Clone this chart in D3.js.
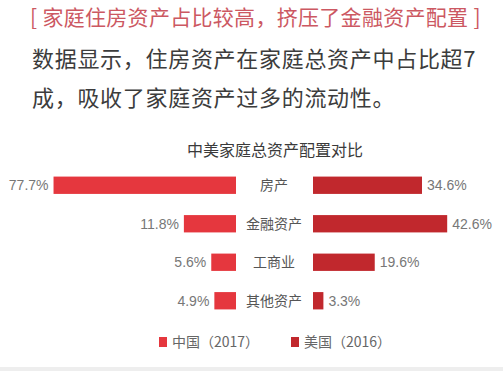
<!DOCTYPE html>
<html>
<head>
<meta charset="utf-8">
<script src="https://cdn.jsdelivr.net/npm/d3@7"></script>
<style>
  html, body { margin: 0; padding: 0; background: #fff; }
  svg { display: block; font-family: "Noto Sans CJK SC", "Noto Sans", sans-serif; }
</style>
</head>
<body>
<div id="app"></div>
<script>
// 数据
const categories = ["房产", "金融资产", "工商业", "其他资产"];
const china2017 = [77.7, 11.8, 5.6, 4.9];
const us2016 = [34.6, 42.6, 19.6, 3.3];
const seriesNames = ["中国（2017）", "美国（2016）"];
const headline = "[ 家庭住房资产占比较高，挤压了金融资产配置 ]";
const bodyLines = ["数据显示，住房资产在家庭总资产中占比超7", "成，吸收了家庭资产过多的流动性。"];
const chartTitle = "中美家庭总资产配置对比";

const width = 503;
const height = 371;
const colors = ["#e5373e", "#c1282d"];

const svg = d3
  .select("#app")
  .append("svg")
  .attr("width", width)
  .attr("height", height);

svg.append("rect").attr("width", width).attr("height", height).attr("fill", "#fff");
// 下端の灰色の帯
svg.append("rect").attr("y", 367).attr("width", width).attr("height", 4).attr("fill", "#eeeeee");

// 見出し
svg
  .append("text")
  .attr("x", 30)
  .attr("y", 24.5)
  .attr("font-size", 21)
  .attr("letter-spacing", 0.3)
  .attr("fill", "#cc5862")
  .text(headline);

// 本文
svg
  .selectAll("text.body")
  .data(bodyLines)
  .join("text")
  .attr("class", "body")
  .attr("x", 32)
  .attr("y", (d, i) => 67 + i * 39)
  .attr("font-size", 22)
  .attr("letter-spacing", 0.7)
  .attr("fill", "#3c3c3c")
  .text((d) => d);

// グラフタイトル
svg
  .append("text")
  .attr("x", 275)
  .attr("y", 156)
  .attr("text-anchor", "middle")
  .attr("font-size", 16)
  .attr("fill", "#3a3a3a")
  .text(chartTitle);

const y = d3
  .scaleBand()
  .domain(categories)
  .range([166, 320])
  .paddingInner(0.55)
  .paddingOuter(0.275);

const leftEdge = 236; // 中国バーの右端
const rightEdge = 313; // 美国バーの左端
const labelX = 274;

// 元の図では中国側の軸が12%以上で圧縮されている
const xL = d3.scaleLinear().domain([0, 12, 80]).range([0, 53, 187]);
const xR = d3.scaleLinear().domain([0, 45]).range([0, 141.75]);

const rows = categories.map((c, i) => ({ cat: c, cn: china2017[i], us: us2016[i] }));

const g = svg.append("g");

// 中国
g.selectAll("rect.cn")
  .data(rows)
  .join("rect")
  .attr("class", "cn")
  .attr("x", (d) => leftEdge - xL(d.cn))
  .attr("y", (d) => y(d.cat))
  .attr("width", (d) => xL(d.cn))
  .attr("height", y.bandwidth())
  .attr("fill", colors[0]);

// 美国
g.selectAll("rect.us")
  .data(rows)
  .join("rect")
  .attr("class", "us")
  .attr("x", rightEdge)
  .attr("y", (d) => y(d.cat))
  .attr("width", (d) => xR(d.us))
  .attr("height", y.bandwidth())
  .attr("fill", colors[1]);

// 数値ラベル
g.selectAll("text.cnv")
  .data(rows)
  .join("text")
  .attr("class", "cnv")
  .attr("x", (d) => leftEdge - xL(d.cn) - 5)
  .attr("y", (d) => y(d.cat) + y.bandwidth() / 2)
  .attr("dy", "0.35em")
  .attr("text-anchor", "end")
  .attr("font-family", "Liberation Sans, Arial, sans-serif")
  .attr("font-size", 14)
  .attr("fill", "#777")
  .text((d) => d.cn.toFixed(1) + "%");

g.selectAll("text.usv")
  .data(rows)
  .join("text")
  .attr("class", "usv")
  .attr("x", (d) => rightEdge + xR(d.us) + 5)
  .attr("y", (d) => y(d.cat) + y.bandwidth() / 2)
  .attr("dy", "0.35em")
  .attr("font-family", "Liberation Sans, Arial, sans-serif")
  .attr("font-size", 14)
  .attr("fill", "#777")
  .text((d) => d.us.toFixed(1) + "%");

// カテゴリ
g.selectAll("text.cat")
  .data(rows)
  .join("text")
  .attr("class", "cat")
  .attr("x", labelX)
  .attr("y", (d) => y(d.cat) + y.bandwidth() / 2)
  .attr("dy", "0.36em")
  .attr("text-anchor", "middle")
  .attr("font-size", 14)
  .attr("fill", "#555")
  .text((d) => d.cat);

// 凡例
const legend = svg
  .selectAll("g.legend")
  .data(seriesNames)
  .join("g")
  .attr("class", "legend")
  .attr("transform", (d, i) => `translate(${159 + i * 132}, 337)`);

legend
  .append("rect")
  .attr("width", 8)
  .attr("height", 10)
  .attr("fill", (d, i) => colors[i]);

legend
  .append("text")
  .attr("x", 13)
  .attr("y", 10)
  .attr("font-size", 14)
  .attr("fill", "#666")
  .text((d) => d);
</script>
</body>
</html>
